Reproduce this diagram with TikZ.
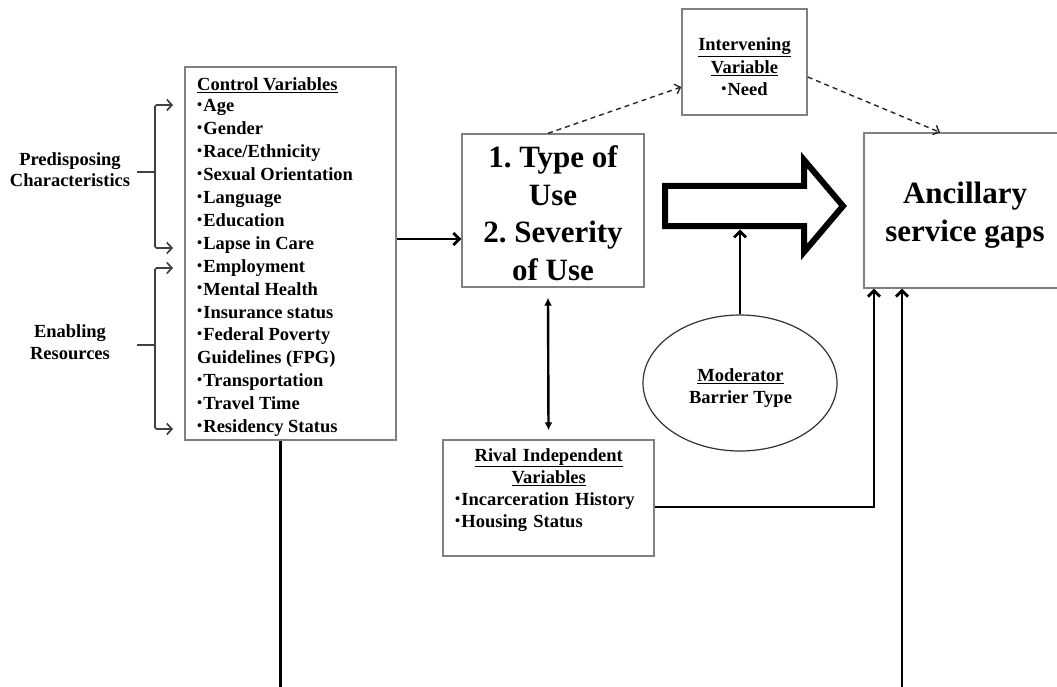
\documentclass[tikz,border=0pt]{standalone}
\usepackage{fontspec}
\setmainfont{Liberation Serif}
\usetikzlibrary{arrows.meta,shapes.geometric,shadows,calc}
\newcommand{\bul}{\makebox[6.2pt][l]{\raisebox{2.2pt}{\fontsize{14.5}{14.5}\selectfont •}}}
\frenchspacing
\begin{document}
\begin{tikzpicture}[x=1pt,y=-1pt,
  box/.style={draw=black!50, line width=1.4pt, fill=white, inner sep=0pt,
    drop shadow={shadow xshift=1.3pt,shadow yshift=-1.3pt,opacity=.35,fill=black!60}},
  txt/.style={inner sep=0pt, font=\bfseries\fontsize{18.5}{22.9}\selectfont},
  bigtxt/.style={inner sep=0pt, align=center},
  conn/.style={line width=2.8pt, -{Straight Barb[length=6pt,width=12pt]}},
  plainline/.style={line width=3pt},
  dconn/.style={line width=1.4pt, black!85, dash pattern=on 5pt off 4pt,
    -{Straight Barb[length=5pt,width=10pt]}},
  dbl/.style={line width=2.4pt, {Latex[length=8pt,width=8pt]}-{Latex[length=8pt,width=8pt]}},
  brk/.style={line width=1.7pt, black!75, rounded corners=1.5pt,
    {Straight Barb[length=5pt,width=11pt]}-{Straight Barb[length=5pt,width=11pt]}},
  tick/.style={line width=1.7pt, black!75},
]
\clip (0,0) rectangle (1057,687);
\fill[white] (0,0) rectangle (1057,687);

% boxes
\node[box, minimum width=211pt, minimum height=373pt] (cv) at (290.5,253.5) {};
\node[box, minimum width=182pt, minimum height=153pt] (tu) at (553,210.5) {};
\node[box, minimum width=125pt, minimum height=106pt] (iv) at (744.5,62) {};
\node[box, minimum width=202pt, minimum height=155pt] (ac) at (965,210.5) {};
\node[box, minimum width=211pt, minimum height=116pt] (rv) at (548.5,498) {};
\node[ellipse, draw=black!80, line width=1.2pt, fill=white, inner sep=0pt,
      minimum width=194pt, minimum height=136pt] (md) at (740,383) {};

% texts
\node[txt, anchor=north west, align=left] (cvt) at (197,77.2)
 {\underline{Control Variables}\\[-1.2pt]
  \bul Age\\\bul Gender\\\bul Race/Ethnicity\\\bul Sexual Orientation\\\bul Language\\\bul Education\\
  \bul Lapse in Care\\\bul Employment\\\bul Mental Health\\\bul Insurance status\\\bul Federal Poverty\\
  Guidelines (FPG)\\\bul Transportation\\\bul Travel Time\\\bul Residency Status};

\node[txt, anchor=north, align=center, font=\bfseries\fontsize{18.5}{21}\selectfont]
  (pd) at (70,152.5) {Predisposing\\Characteristics};
\node[txt, anchor=north, align=center, font=\bfseries\fontsize{18.5}{22.3}\selectfont]
  (en) at (70,324) {Enabling\\Resources};

\node[bigtxt, anchor=north, font=\bfseries\fontsize{31}{37.8}\selectfont]
  (tut) at (553,145.3) {1. Type of\\Use\\2. Severity\\of Use};
\node[bigtxt, anchor=north, font=\bfseries\fontsize{31}{37.5}\selectfont]
  (act) at (965,182) {Ancillary\\service gaps};

\node[txt, anchor=north, align=center, font=\bfseries\fontsize{18.5}{22.2}\selectfont]
  (ivt) at (744.5,37.8) {\underline{Intervening}\\\underline{Variable}\\\bul Need};
\node[txt, anchor=north, align=center, font=\bfseries\fontsize{18.5}{21.5}\selectfont]
  (mdt) at (740.5,368.5) {\underline{Moderator}\\Barrier Type};
\node[txt, anchor=north west, text width=187pt, font=\bfseries\fontsize{18.5}{22.3}\selectfont]
  (rvt) at (455,448)
  {{\centering\underline{Rival Independent}\\\underline{Variables}\par}
   \bul Incarceration History\\\bul Housing Status};

% big hollow arrow
\draw[line width=6pt, line join=miter, miter limit=10]
  (665,186) -- (804,186) -- (804,160) -- (843,206) -- (804,252) -- (804,226) -- (665,226) -- cycle;
\coordinate (bigbot) at (740,229.5);

% brackets
\coordinate (pa) at (173,105);
\coordinate (pb) at (173,248);
\coordinate (ea) at (173,268);
\coordinate (eb) at (173,429);
\coordinate (pm) at (137,172);
\coordinate (em) at (137,345);
\draw[brk] (pa) -- ++(-18,0) |- (pb);
\draw[brk] (ea) -- ++(-18,0) |- (eb);
\draw[tick] (pm) -- ++(18,0);
\draw[tick] (em) -- ++(18,0);

% connectors
\draw[conn] ([yshift=14.5pt]cv.east) -- ([yshift=14.5pt]cv.east -| tu.west);
\draw[dconn] ([xshift=-5pt]tu.north) -- ([yshift=-25pt]iv.west);
\draw[dconn] ([yshift=-15pt]iv.east) -- ([xshift=-25pt]ac.north);
\draw[dbl] ([xshift=-5pt,yshift=-10pt]tu.south) -- ([yshift=9pt]rv.north);
\draw[conn] (md.north) -- (bigbot);
\draw[conn] ([yshift=-9pt]rv.east) -| ([xshift=-91pt]ac.south);
\coordinate (bot1) at (280,690);
\coordinate (bot2) at (902,690);
\draw[plainline] ([xshift=-10.5pt]cv.south) -- (bot1);
\draw[conn] (bot2) -- ([xshift=-63pt]ac.south);
\end{tikzpicture}
\end{document}
